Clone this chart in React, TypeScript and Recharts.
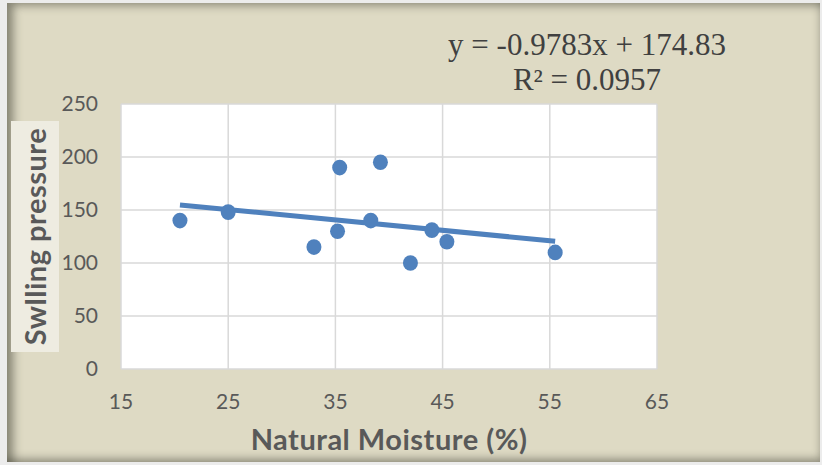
import { ScatterChart, Scatter, XAxis, YAxis, CartesianGrid, ReferenceLine } from 'recharts'

// Natural moisture (%) against swelling pressure
const moisture = [20.5, 25, 33, 35.2, 35.4, 38.3, 39.2, 42, 44, 45.4, 55.5]
const pressure = [140, 148, 115, 130, 190, 140, 195, 100, 131, 120, 110]

const xTicks = [15, 25, 35, 45, 55, 65]
const yTicks = [0, 50, 100, 150, 200, 250]

// linear trendline y = slope * x + intercept
const slope = -0.9783
const intercept = 174.83
const rSquared = 0.0957

const points = moisture.map((x, i) => ({ x, y: pressure[i] }))
const trendX = [moisture[0], moisture[moisture.length - 1]]
const trend = trendX.map((x) => ({ x, y: slope * x + intercept }))

const textColor = '#595959'
const blue = '#4F81BD'

export default function App() {
  return (
    <div style={{ position: 'fixed', left: 0, top: 0, width: 822, height: 465, background: '#ececec' }}>
      <div
        style={{
          position: 'absolute',
          left: 7,
          top: 3,
          width: 813,
          height: 459,
          background: '#DEDAC4',
          boxShadow:
            'inset 12px 8px 10px -6px rgba(60,60,50,0.55), inset -4px -8px 8px -5px rgba(60,60,50,0.5)',
        }}
      >
        <ScatterChart width={813} height={459} margin={{ top: 101, right: 163, bottom: 0, left: 0 }}>
          <CartesianGrid stroke="#D9D9D9" strokeWidth={1.5} fill="#ffffff" />
          <XAxis
            type="number"
            dataKey="x"
            domain={[15, 65]}
            ticks={xTicks}
            axisLine={false}
            tickLine={false}
            tickMargin={19}
            height={93}
            tick={{ fill: textColor, fontSize: 21, fontFamily: 'Lato' }}
          />
          <YAxis
            type="number"
            dataKey="y"
            domain={[0, 250]}
            ticks={yTicks}
            axisLine={false}
            tickLine={false}
            tickMargin={17}
            width={114}
            tick={{ fill: textColor, fontSize: 21, fontFamily: 'Lato' }}
          />
          <Scatter data={points} fill={blue} isAnimationActive={false} shape={(p: any) => (
            <ellipse cx={p.cx} cy={p.cy} rx={7.5} ry={7.8} fill={blue} />
          )} />
          <ReferenceLine
            segment={[trend[0], trend[1]]}
            stroke={blue}
            strokeWidth={5}
          />
        </ScatterChart>

        {/* trendline equation */}
        <div
          style={{
            position: 'absolute',
            left: 380,
            width: 400,
            top: 24,
            textAlign: 'center',
            fontFamily: '"Liberation Serif", "Times New Roman", serif',
            fontSize: 31,
            lineHeight: '35px',
            color: '#404040',
          }}
        >
          <div>y = {slope}x + {intercept}</div>
          <div>R² = {rSquared}</div>
        </div>

        {/* y axis title */}
        <div
          style={{
            position: 'absolute',
            left: 4,
            top: 118,
            width: 48,
            height: 231,
            background: '#EEECE1',
            display: 'flex',
            alignItems: 'center',
            justifyContent: 'center',
          }}
        >
          <div
            style={{
              transform: 'rotate(-90deg)',
              whiteSpace: 'nowrap',
              fontFamily: 'Lato',
              fontWeight: 700,
              fontSize: 29,
              letterSpacing: 0.5,
              color: textColor,
            }}
          >
            Swlling pressure
          </div>
        </div>

        {/* x axis title */}
        <div
          style={{
            position: 'absolute',
            left: 182,
            width: 400,
            top: 419,
            textAlign: 'center',
            fontFamily: 'Lato',
            fontWeight: 700,
            fontSize: 29,
            letterSpacing: 0.5,
            lineHeight: '34px',
            color: textColor,
          }}
        >
          Natural Moisture (%)
        </div>
      </div>
    </div>
  )
}
